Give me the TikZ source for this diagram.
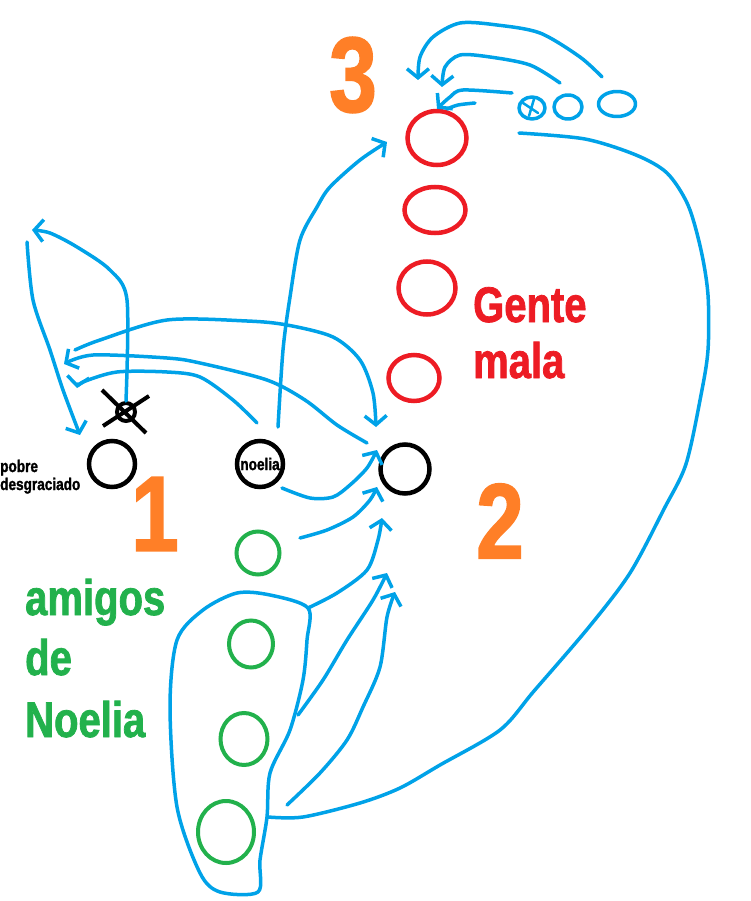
\documentclass[tikz,border=0pt]{standalone}
\usepackage{fontspec}
\usepackage{tikz}
\usetikzlibrary{shapes.geometric,arrows.meta}
\newfontfamily\impact[FakeStretch=0.8,FakeBold=1.5]{Liberation Sans}
\definecolor{paintblue}{RGB}{0,162,232}
\definecolor{paintred}{RGB}{237,28,36}
\definecolor{paintgreen}{RGB}{34,177,76}
\definecolor{paintorange}{RGB}{255,127,39}

\begin{document}
\begin{tikzpicture}[x=1pt,y=-1pt,
    blk/.style={circle,draw=black,line width=4.5pt,minimum size=46pt,inner sep=0pt},
    bad/.style={ellipse,draw=paintred,line width=4.5pt,inner sep=0pt},
    good/.style={ellipse,draw=paintgreen,line width=4pt,inner sep=0pt},
    paint/.style={draw=paintblue,line width=3.5pt,line cap=round,line join=round},
    paintarr/.style={paint,-{Straight Barb[length=9pt,width=22pt]}},
    oval/.style={ellipse,paint,inner sep=0pt},
    num/.style={text=paintorange,font=\impact\bfseries\fontsize{107}{107}\selectfont,inner sep=0pt},
    bigtxt/.style={font=\impact\bfseries\fontsize{50}{58}\selectfont,inner sep=0pt,anchor=base west},
    smalltxt/.style={font=\impact\bfseries\fontsize{17}{18}\selectfont,inner sep=0pt}]
    \useasboundingbox (0,0) rectangle (751,901);

    \node[blk] (pobre) at (112,464) {};
    \node[blk,smalltxt] (noelia) at (260,464) {noelia};
    \node[blk,minimum size=49pt] (dos) at (405,469) {};
    \node[circle,draw,line width=4pt,minimum size=18pt,inner sep=0pt] (tachado) at (126,412) {};
    \draw[line width=4pt] (102,390) -- (146,433) (149,396) -- (103,426);
    \node[smalltxt,anchor=base west] (p1) at (0,472) {pobre};
    \node[smalltxt,anchor=base west] (p2) at (0,490) {desgraciado};

    \node[bad,minimum width=59pt,minimum height=54pt] (m1) at (437,138) {};
    \node[bad,minimum width=61pt,minimum height=46pt] (m2) at (435,210) {};
    \node[bad,minimum width=57pt,minimum height=53pt] (m3) at (427,288) {};
    \node[bad,minimum width=51pt,minimum height=46pt] (m4) at (414,378) {};
    \node[bigtxt,text=paintred] (gente) at (473,322) {Gente};
    \node[bigtxt,text=paintred] (mala) at (473,378) {mala};

    \node[good,minimum width=43pt,minimum height=43pt] (a1) at (258,553) {};
    \node[good,minimum width=44pt,minimum height=47pt] (a2) at (251,644) {};
    \node[good,minimum width=47pt,minimum height=52pt] (a3) at (244,739) {};
    \node[good,minimum width=56pt,minimum height=62pt] (a4) at (226,832) {};
    \node[bigtxt,text=paintgreen] (amigos) at (25,615) {amigos};
    \node[bigtxt,text=paintgreen] (de) at (25,675) {de};
    \node[bigtxt,text=paintgreen] (nombre) at (25,737) {Noelia};

    \node[num] (uno) at (155,514) {1};
    \node[num] (two) at (500,521) {2};
    \node[num] (tres) at (353,75) {3};

    \node[oval,minimum width=26pt,minimum height=22pt] (b1) at (532,108) {};
    \node[oval,minimum width=28pt,minimum height=24pt] (b2) at (568,107) {};
    \node[oval,minimum width=37pt,minimum height=25pt] (b3) at (617,104) {};
    \draw[paint,line width=2.5pt] (523,103) -- (538,113) (534,99) -- (529,116);

    \coordinate (c1) at (32,230);
    \coordinate (c2) at (27,242);
    \coordinate (c3) at (80,435);
    \coordinate (c4) at (75,350);
    \coordinate (c5) at (376,427);
    \coordinate (c6) at (367,443);
    \coordinate (c7) at (64,364);
    \coordinate (c8) at (257,423);
    \coordinate (c9) at (77,388);
    \coordinate (c10) at (278,427);
    \coordinate (c11) at (387,142);
    \coordinate (c12) at (282,488);
    \coordinate (c13) at (377,450);
    \coordinate (c14) at (300,538);
    \coordinate (c15) at (377,487);
    \coordinate (e1) at (308,608);
    \coordinate (c16) at (382,518);
    \coordinate (c17) at (298,715);
    \coordinate (c18) at (387,573);
    \coordinate (c19) at (287,805);
    \coordinate (c20) at (395,592);
    \coordinate (e2) at (268,817);
    \coordinate (c21) at (519,133);
    \coordinate (c22) at (602,77);
    \coordinate (c23) at (418,80);
    \coordinate (c24) at (560,83);
    \coordinate (c25) at (442,87);
    \coordinate (c26) at (512,93);
    \coordinate (c27) at (475,103);
    \coordinate (c28) at (447,109);

    \draw[paintarr] plot[smooth] coordinates {(tachado.north) (127,300) (110,270) (77,247) (50,233) (c1)};
    \draw[paintarr] plot[smooth] coordinates {(c2) (33,300) (50,350) (63,390) (c3)};
    \draw[paintarr] plot[smooth] coordinates {(c4) (100,340) (167,320) (247,321) (287,325) (333,337) (360,360) (373,393) (c5)};
    \draw[paintarr] plot[smooth] coordinates {(c6) (337,425) (305,400) (267,380) (200,363) (167,358) (93,355) (c7)};
    \draw[paintarr] plot[smooth] coordinates {(c8) (233,400) (200,377) (167,372) (117,372) (83,382) (c9)};
    \draw[paintarr] plot[smooth] coordinates {(c10) (283,350) (290,297) (300,240) (317,207) (330,187) (360,160) (c11)};
    \draw[paintarr] plot[smooth] coordinates {(c12) (310,498) (333,497) (350,485) (367,468) (c13)};
    \draw[paintarr] plot[smooth] coordinates {(c14) (327,530) (353,517) (370,500) (c15)};
    \draw[paint] plot[smooth cycle] coordinates {(e1) (270,595) (237,593) (203,610) (177,640) (170,707) (177,807) (200,873) (220,892) (258,892) (260,860) (267,817) (270,773) (290,730) (303,680) (307,640)};
    \draw[paintarr] plot[smooth] coordinates {(e1) (337,593) (367,570) (378,540) (c16)};
    \draw[paintarr] plot[smooth] coordinates {(c17) (323,680) (347,640) (373,600) (c18)};
    \draw[paintarr] plot[smooth] coordinates {(c19) (320,773) (347,740) (363,707) (380,667) (387,617) (c20)};
    \draw[paint] plot[smooth] coordinates {(e2) (303,817) (360,803) (400,788) (440,765) (500,730) (534,691) (589,627) (630,573) (664,509) (686,464) (701,395) (708,350) (708,295) (701,250) (688,205) (667,173) (636,155) (585,139) (c21)};
    \draw[paintarr] plot[smooth] coordinates {(c22) (580,57) (540,33) (497,25) (460,23) (433,37) (420,57) (c23)};
    \draw[paintarr] plot[smooth] coordinates {(c24) (530,65) (490,57) (460,55) (445,67) (c25)};
    \draw[paintarr] plot[smooth] coordinates {(c26) (463,90) (450,97) (m1.north)};
    \draw[paint] plot[smooth] coordinates {(c27) (458,105) (c28)};
\end{tikzpicture}
\end{document}
